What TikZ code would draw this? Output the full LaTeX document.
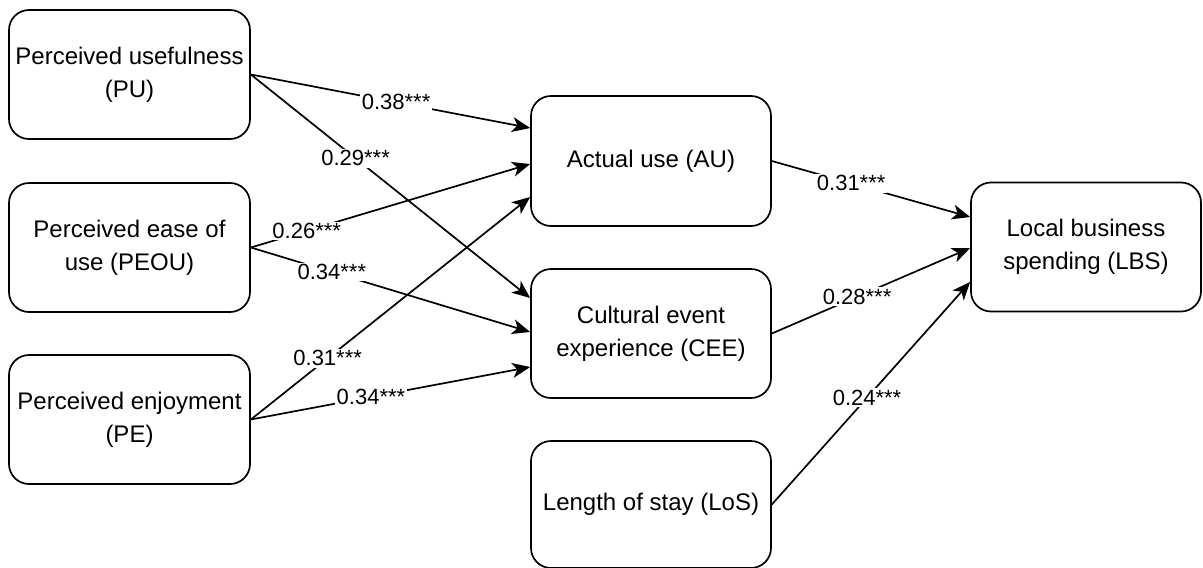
\documentclass[tikz,border=0pt]{standalone}
\usepackage{fontspec}
\setmainfont{Liberation Sans}
\usetikzlibrary{calc,arrows.meta}
\tikzset{
  box/.style={draw, line width=1.7pt, rounded corners=20pt, align=center,
    font=\fontsize{24}{33}\selectfont, inner sep=0pt},
  arr/.style={line width=1.7pt, -{Stealth[length=18pt,width=15pt,inset=5pt]}},
  lab/.style={fill=white, inner sep=1.5pt, font=\fontsize{22}{26}\selectfont}
}
\begin{document}
\begin{tikzpicture}[x=1pt,y=-1pt]
\useasboundingbox (0,0) rectangle (1203,568);
\node[box, minimum width=241pt, minimum height=129pt] (PU) at (129.5,74.5) {Perceived usefulness\\(PU)};
\node[box, minimum width=241pt, minimum height=129pt] (PEOU) at (129.5,247.5) {Perceived ease of\\use (PEOU)};
\node[box, minimum width=241pt, minimum height=129pt] (PE) at (129.5,419.5) {Perceived enjoyment\\(PE)};
\node[box, minimum width=240pt, minimum height=130pt] (AU) at (651,161) {Actual use (AU)};
\node[box, minimum width=240pt, minimum height=129pt] (CEE) at (651,333.5) {Cultural event\\experience (CEE)};
\node[box, minimum width=240pt, minimum height=127pt] (LoS) at (651,504.5) {Length of stay (LoS)};
\node[box, minimum width=230pt, minimum height=129pt] (LBS) at (1086,247) {Local business\\spending (LBS)};

\draw[arr] (PU.east) -- node[lab, pos=0.52] {0.38***} ($(AU.west)+(0,-33)$);
\draw[arr] (PU.east) -- node[lab, pos=0.375] {0.29***} ($(CEE.west)+(0,-35.5)$);
\draw[arr] (PEOU.east) -- node[lab, pos=0.2] {0.26***} ($(AU.west)+(0,3)$);
\draw[arr] (PEOU.east) -- node[lab, pos=0.29] {0.34***} ($(CEE.west)+(0,-1.5)$);
\draw[arr] (PE.east) -- node[lab, pos=0.275] {0.31***} ($(AU.west)+(0,36)$);
\draw[arr] (PE.east) -- node[lab, pos=0.43] {0.34***} ($(CEE.west)+(0,33.5)$);
\draw[arr] (AU.east) -- node[lab, pos=0.4] {0.31***} ($(LBS.west)+(0,-30)$);
\draw[arr] (CEE.east) -- node[lab, pos=0.43] {0.28***} ($(LBS.west)+(0,1)$);
\draw[arr] (LoS.east) -- node[lab, pos=0.48] {0.24***} ($(LBS.west)+(0,35)$);
\end{tikzpicture}
\end{document}
